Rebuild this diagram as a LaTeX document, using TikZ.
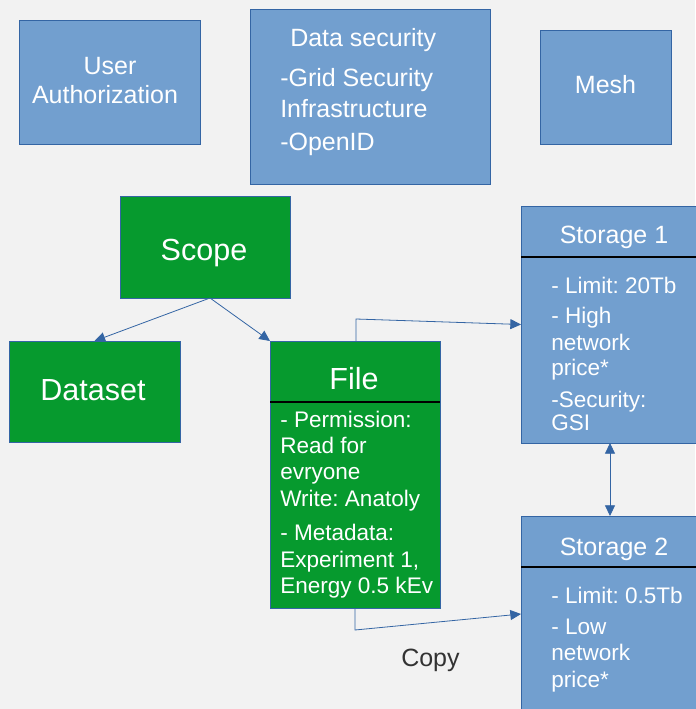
\documentclass[tikz,border=0pt]{standalone}
\usepackage{fontspec}
\setmainfont{Liberation Sans}
\frenchspacing
\usetikzlibrary{arrows.meta,fit}
\definecolor{bg}{HTML}{F2F2F2}
\definecolor{boxblue}{HTML}{729FCF}
\definecolor{boxgreen}{HTML}{069A2E}
\definecolor{edge}{HTML}{3465A4}
\definecolor{note}{HTML}{333333}
\begin{document}
\begin{tikzpicture}[x=0.75pt,y=-0.75pt,
  panel/.style={draw=edge, line width=0.6pt, inner sep=0pt, outer sep=0pt},
  bluepanel/.style={panel, fill=boxblue},
  greenpanel/.style={panel, fill=boxgreen},
  lbl/.style={text=white, inner sep=0pt, anchor=base},
  lbll/.style={lbl, anchor=base west},
  bigtext/.style={font=\fontsize{18.75}{22}\selectfont},
  titletext/.style={font=\fontsize{22.9}{26}\selectfont},
  bodytext/.style={font=\fontsize{16.9}{20}\selectfont},
  divider/.style={black, line width=0.9pt},
  link/.style={draw=edge, line width=0.6pt, -{Triangle[length=8pt,width=7.5pt]}},
  biglink/.style={draw=edge, line width=0.6pt, {Triangle[length=8pt,width=7.5pt]}-{Triangle[length=8pt,width=7.5pt]}}]

% canvas
\fill[bg] (0,0) rectangle (695,709);
\useasboundingbox (0,0) rectangle (695,709);

% top row
\node[bluepanel, fit={(19,20)(200,144)}] (auth) {};
\node[lbl, bigtext] (authA) at (110,75) {User};
\node[lbl, bigtext] (authB) at (105,104) {Authorization};

\node[bluepanel, fit={(250,9)(490,184)}] (sec) {};
\node[lbll, bigtext] (secT) at (290,47) {Data security};
\node[lbll, bigtext] (secA) at (280,87) {-Grid Security};
\node[lbll, bigtext] (secB) at (280,118) {Infrastructure};
\node[lbll, bigtext] (secC) at (280,151) {-OpenID};

\node[bluepanel, fit={(540,30)(671,144)}] (mesh) {};
\node[lbl, bigtext] (meshT) at (605.5,94) {Mesh};

% scope, dataset, file
\node[greenpanel, fit={(120,196)(290,298)}] (scope) {};
\node[lbl, titletext] (scopeT) at (204,260) {Scope};

\node[greenpanel, fit={(9,341)(180,442)}] (dataset) {};
\node[lbl, titletext] (datasetT) at (93,400) {Dataset};

\node[greenpanel, fit={(270,341)(440,608)}] (file) {};
\draw[divider] (270,402) -- (440,402);
\node[lbl, titletext] (fileT) at (354,389) {File};
\node[lbll, bodytext] (f1) at (280,427) {- Permission:};
\node[lbll, bodytext] (f2) at (280,453) {Read for};
\node[lbll, bodytext] (f3) at (280,479) {evryone};
\node[lbll, bodytext] (f4) at (280,506) {Write: Anatoly};
\node[lbll, bodytext] (f5) at (280,540) {- Metadata:};
\node[lbll, bodytext] (f6) at (280,567) {Experiment 1,};
\node[lbll, bodytext] (f7) at (280,593) {Energy 0.5 kEv};

% storages
\node[bluepanel, fit={(521,206)(700,443)}] (st1) {};
\draw[divider] (521,257) -- (700,257);
\node[lbl, bigtext] (st1T) at (614,243) {Storage 1};
\node[lbll, bodytext] (s1a) at (551,293) {- Limit: 20Tb};
\node[lbll, bodytext] (s1b) at (551,323) {- High};
\node[lbll, bodytext] (s1c) at (551,350) {network};
\node[lbll, bodytext] (s1d) at (551,375) {price*};
\node[lbll, bodytext] (s1e) at (551,407) {-Security:};
\node[lbll, bodytext] (s1f) at (551,430) {GSI};

\node[bluepanel, fit={(521,516)(700,712)}] (st2) {};
\draw[divider] (521,567) -- (700,567);
\node[lbl, bigtext] (st2T) at (614,555) {Storage 2};
\node[lbll, bodytext] (s2a) at (551,603) {- Limit: 0.5Tb};
\node[lbll, bodytext] (s2b) at (551,634) {- Low};
\node[lbll, bodytext] (s2c) at (551,660) {network};
\node[lbll, bodytext] (s2d) at (551,687) {price*};

\node[anchor=base west, inner sep=0pt, text=note, bigtext] (copy) at (401,666) {Copy};

% connectors
\coordinate (scopeOut) at (210,298);
\coordinate (up1) at (356,319);
\coordinate (down2) at (355,630);
\draw[link] (scopeOut) -- (dataset.north);
\draw[link] (scopeOut) -- (file.north west);
\draw[link] (file.north -| up1) -- (up1) -- (st1.west);
\draw[link] (file.south) -- (down2) -- (st2.west);
\draw[biglink] (610,443) -- (610,516);
\end{tikzpicture}
\end{document}
